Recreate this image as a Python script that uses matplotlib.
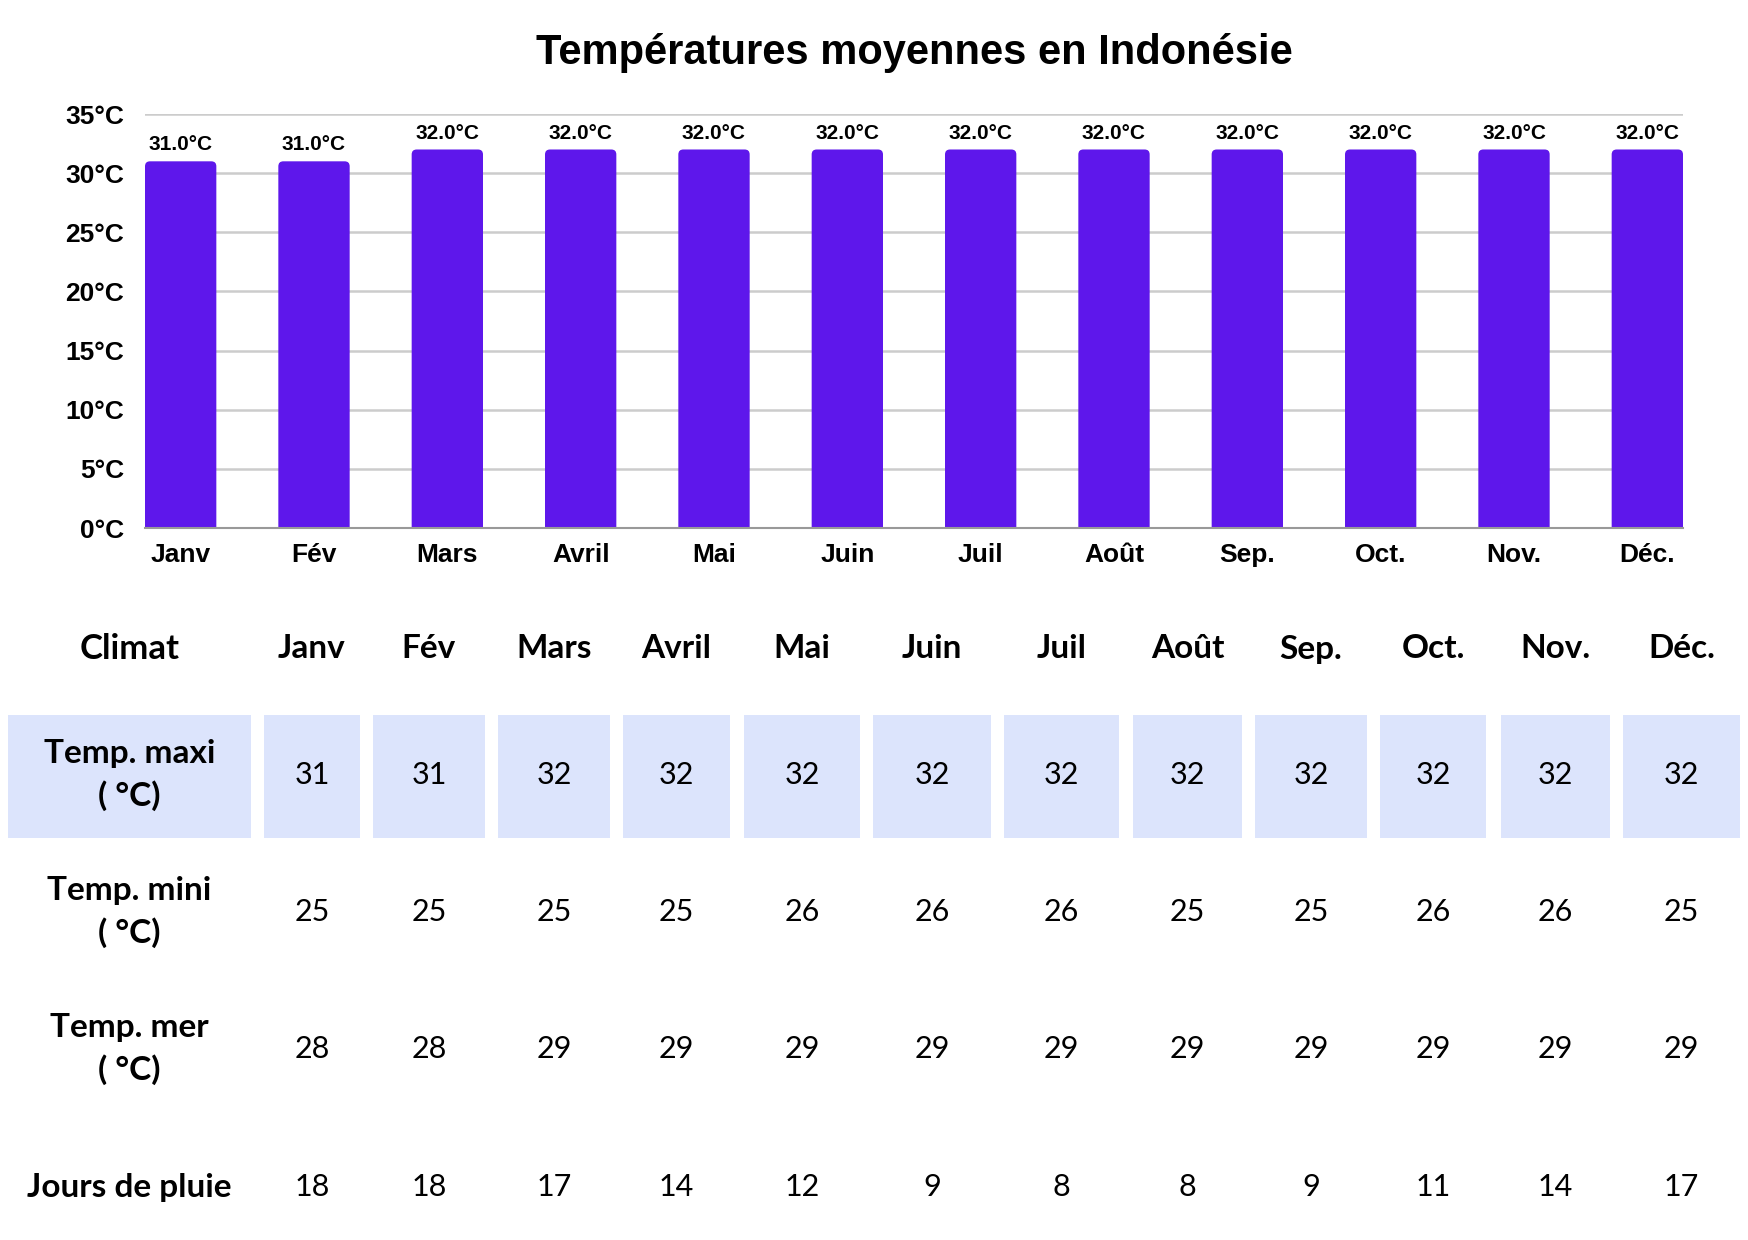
import numpy as np
import matplotlib
matplotlib.use("Agg")
import matplotlib.pyplot as plt
from matplotlib.patches import Rectangle, FancyBboxPatch

# ----- DATA -----
months = ['Janv', 'Fév', 'Mars', 'Avril', 'Mai', 'Juin',
          'Juil', 'Août', 'Sep.', 'Oct.', 'Nov.', 'Déc.']
temp_max = [31, 31, 32, 32, 32, 32, 32, 32, 32, 32, 32, 32]
temp_min = [25, 25, 25, 25, 26, 26, 26, 25, 25, 26, 26, 25]
temp_mer = [28, 28, 29, 29, 29, 29, 29, 29, 29, 29, 29, 29]
jours_pluie = [18, 18, 17, 14, 12, 9, 8, 8, 9, 11, 14, 17]
yticks = [0, 5, 10, 15, 20, 25, 30, 35]

row_labels = ['Temp. maxi\n( °C)', 'Temp. mini\n( °C)', 'Temp. mer\n( °C)', 'Jours de pluie']
row_values = [temp_max, temp_min, temp_mer, jours_pluie]

# ----- STYLE -----
bar_color = '#5E17EB'
cell_color = '#DCE4FC'
chart_font = 'Liberation Sans'
table_font = 'Lato'

W, H = 1748, 1240
fig = plt.figure(figsize=(W / 100, H / 100), dpi=100)

# ----- BAR CHART -----
ax_pos = [145 / W, 1 - 528 / H, (1683 - 145) / W, (528 - 114) / H]
ax = fig.add_axes(ax_pos)
x = np.arange(len(months))
bar_w = 0.535
bars = ax.bar(x, temp_max, width=bar_w, color=bar_color, zorder=3, alpha=0)
ax.bar_label(bars, labels=[f'{v:.1f}°C' for v in temp_max], padding=5,
             fontsize=15, fontweight='bold', family=chart_font)

xlim = (-bar_w / 2, len(months) - 1 + bar_w / 2)
ax.set_xlim(*xlim)
ax.set_ylim(0, 35)

# rounded tops: radius of ~5 px expressed in data units
px_per_x = (1683 - 145) / (xlim[1] - xlim[0])
px_per_y = (528 - 114) / 35
r = 5 / px_per_x
for b in bars:
    p = FancyBboxPatch((b.get_x(), -1), b.get_width(), b.get_height() + 1,
                       boxstyle=f'round,pad=0,rounding_size={r}',
                       mutation_aspect=px_per_x / px_per_y,
                       facecolor=bar_color, edgecolor='none', zorder=3)
    ax.add_patch(p)

ax.set_yticks(yticks)
ax.set_yticklabels([f'{t}°C' for t in yticks], fontsize=19, fontweight='bold', family=chart_font)
ax.set_xticks(x)
ax.set_xticklabels(months, fontsize=19, fontweight='bold', family=chart_font)
ax.tick_params(axis='both', length=0)
ax.tick_params(axis='y', pad=15)
ax.tick_params(axis='x', pad=11)
ax.grid(axis='y', color='#cccccc', lw=1.8, zorder=0)
for s in ['top', 'right', 'left']:
    ax.spines[s].set_visible(False)
ax.spines['bottom'].set_color('#999999')
ax.spines['bottom'].set_linewidth(1.5)
ax.spines['bottom'].set_zorder(4)

fig.text(914 / W, 1 - 53 / H, 'Températures moyennes en Indonésie', ha='center', va='center',
         fontsize=30, fontweight='bold', family=chart_font)

# ----- TABLE -----
tab = fig.add_axes([0, 0, 1, 1])
tab.set_xlim(0, W)
tab.set_ylim(H, 0)
tab.axis('off')

col_left = [8, 264, 373, 498, 623, 744, 873, 1004, 1133, 1255, 1380, 1501, 1623]
col_right = [251, 360, 485, 610, 730, 860, 991, 1119, 1242, 1367, 1486, 1610, 1740]
centers = [(l + r) / 2 for l, r in zip(col_left, col_right)]
header_y = 649
row_y = [775, 912, 1049, 1187]
band_top, band_bottom = 715, 838

for l, r in zip(col_left, col_right):
    tab.add_patch(Rectangle((l, band_top), r - l, band_bottom - band_top,
                            facecolor=cell_color, edgecolor='none'))

tab.text(centers[0], header_y, 'Climat', ha='center', va='center',
         fontsize=25, fontweight='bold', family=table_font)
for cx, m in zip(centers[1:], months):
    tab.text(cx, header_y, m, ha='center', va='center',
             fontsize=24, fontweight='bold', family=table_font)

for ry, lab, vals in zip(row_y, row_labels, row_values):
    tab.text(centers[0], ry, lab, ha='center', va='center', linespacing=1.5,
             fontsize=24, fontweight='bold', family=table_font)
    for cx, v in zip(centers[1:], vals):
        tab.text(cx, ry, str(v), ha='center', va='center',
                 fontsize=22, family=table_font)

fig.savefig('out.png', dpi=100, facecolor='white')
